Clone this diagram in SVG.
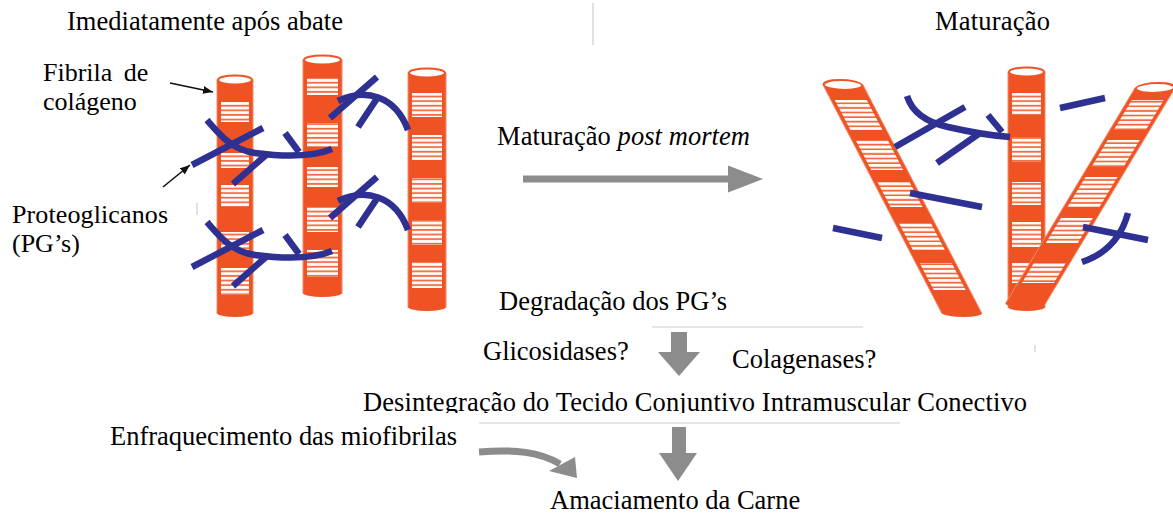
<svg xmlns="http://www.w3.org/2000/svg" width="1173" height="515" viewBox="0 0 1173 515">
  <style>
    text { font-family: 'Liberation Serif', 'DejaVu Serif', 'Times New Roman', serif; font-size: 26.5px; fill: #000; }
    .lbl { font-size: 26px; }
    .body { fill: #ef5323; stroke: #f58a6a; stroke-width: 1; }
    .cap { fill: #fff; stroke: #ef5323; stroke-width: 2; }
    .bot { fill: #ef5323; }
    .band { fill: url(#stripes); }
    .pg { fill: none; stroke: #2e3192; stroke-width: 6.5; }
    .gray { fill: #8c8c8c; }
    .grayline { fill: none; stroke: #8c8c8c; stroke-width: 7; }
    .rule { stroke: #cfcfcf; stroke-width: 1.2; }
    .ptr { stroke: #111; stroke-width: 1.6; fill: none; }
  </style>
  <defs>
    <pattern id="stripes" width="10" height="4.6" patternUnits="userSpaceOnUse">
      <rect width="10" height="4.6" fill="#f26a3f"/>
      <rect y="0.8" width="10" height="2.8" fill="#fff"/>
    </pattern>
    <marker id="head" viewBox="0 0 10 8" markerWidth="10" markerHeight="8" refX="10" refY="4" orient="auto" markerUnits="userSpaceOnUse">
      <path d="M0,0 L10,4 L0,8 z" fill="#111"/>
    </marker>
    <clipPath id="cut">
      <rect x="300" y="380" width="800" height="33"/>
    </clipPath>
  </defs>

  <rect width="1173" height="515" fill="#fff"/>

  <!-- headings -->
  <g id="title-left"><text x="67" y="30" textLength="276">Imediatamente após abate</text></g>
  <g id="title-right"><text x="935" y="30" textLength="115">Maturação</text></g>
  <line class="rule" x1="593" y1="3" x2="593" y2="45"/>

  <!-- left panel: collagen fibrils -->
  <g id="fibril-1">
    <rect class="body" x="217" y="80" width="36" height="233"/>
    <ellipse class="bot" cx="235" cy="313" rx="18" ry="4"/>
    <rect class="band" x="221" y="102" width="28" height="20"/>
    <rect class="band" x="221" y="153" width="28" height="15"/>
    <rect class="band" x="221" y="185" width="28" height="22"/>
    <rect class="band" x="221" y="232" width="28" height="18"/>
    <rect class="band" x="221" y="268" width="28" height="27"/>
    <ellipse class="cap" cx="235" cy="80" rx="17" ry="4.5"/>
  </g>
  <g id="fibril-2">
    <rect class="body" x="303" y="60" width="39" height="233"/>
    <ellipse class="bot" cx="322.5" cy="293" rx="19.5" ry="4"/>
    <rect class="band" x="307" y="78" width="31" height="17"/>
    <rect class="band" x="307" y="123" width="31" height="24"/>
    <rect class="band" x="307" y="167" width="31" height="20"/>
    <rect class="band" x="307" y="207" width="31" height="25"/>
    <rect class="band" x="307" y="250" width="31" height="27"/>
    <ellipse class="cap" cx="322.5" cy="60" rx="18.5" ry="4.5"/>
  </g>
  <g id="fibril-3">
    <rect class="body" x="408" y="73" width="38" height="234"/>
    <ellipse class="bot" cx="427" cy="307" rx="19" ry="4"/>
    <rect class="band" x="412" y="93" width="30" height="24"/>
    <rect class="band" x="412" y="135" width="30" height="25"/>
    <rect class="band" x="412" y="178" width="30" height="25"/>
    <rect class="band" x="412" y="220" width="30" height="25"/>
    <rect class="band" x="412" y="262" width="30" height="26"/>
    <ellipse class="cap" cx="427" cy="73" rx="18" ry="4.5"/>
  </g>

  <!-- left panel: proteoglycans bridging the fibrils -->
  <g id="pg-left">
    <path class="pg" d="M207,120 C220,135 232,150 255,153 S310,158 332,149"/>
    <path class="pg" d="M192,165 L263,128"/>
    <path class="pg" d="M233,184 L266,155"/>
    <path class="pg" d="M285,133 L299,152"/>
    <path class="pg" d="M207,222 C220,237 232,252 255,255 S310,260 332,251"/>
    <path class="pg" d="M192,267 L263,230"/>
    <path class="pg" d="M233,286 L266,257"/>
    <path class="pg" d="M285,235 L299,254"/>
    <path class="pg" d="M330,118 L377,77"/>
    <path class="pg" d="M338,101 C365,88 395,95 408,130"/>
    <path class="pg" d="M358,127 L378,97"/>
    <path class="pg" d="M330,218 L377,177"/>
    <path class="pg" d="M338,201 C365,188 395,195 408,230"/>
    <path class="pg" d="M358,227 L378,197"/>
  </g>

  <!-- labels -->
  <g id="label-fibrila">
    <text class="lbl" x="43" y="81" word-spacing="5">Fibrila de</text>
    <text class="lbl" x="43" y="110">colágeno</text>
  </g>
  <g id="label-pg">
    <text class="lbl" x="12" y="222.5" textLength="156">Proteoglicanos</text>
    <text class="lbl" x="12" y="252">(PG’s)</text>
  </g>
  <line class="rule" x1="197" y1="203" x2="197" y2="215"/>

  <!-- right panel: fibrils after ageing -->
  <g id="fibril-4" transform="translate(843,85) skewX(27.5)">
    <rect class="body" x="-20" y="0" width="40" height="228"/>
    <ellipse class="bot" cx="0" cy="228" rx="20" ry="4"/>
    <rect class="band" x="-16" y="15" width="32" height="30"/>
    <rect class="band" x="-16" y="55" width="32" height="30"/>
    <rect class="band" x="-16" y="97" width="32" height="25"/>
    <rect class="band" x="-16" y="138" width="32" height="27"/>
    <rect class="band" x="-16" y="178" width="32" height="27"/>
    <ellipse class="cap" cx="0" cy="0" rx="19" ry="5"/>
  </g>
  <g id="fibril-5">
    <rect class="body" x="1008" y="72" width="37" height="235"/>
    <ellipse class="bot" cx="1026.5" cy="307" rx="18.5" ry="4"/>
    <rect class="band" x="1012" y="93" width="29" height="22"/>
    <rect class="band" x="1012" y="137" width="29" height="25"/>
    <rect class="band" x="1012" y="182" width="29" height="23"/>
    <rect class="band" x="1012" y="222" width="29" height="25"/>
    <rect class="band" x="1012" y="263" width="29" height="20"/>
    <ellipse class="cap" cx="1026.5" cy="72" rx="17.5" ry="4.5"/>
  </g>
  <g id="fibril-6" transform="translate(1155,88) skewX(-31)">
    <rect class="body" x="-20" y="0" width="40" height="215"/>
    <ellipse class="bot" cx="0" cy="215" rx="20" ry="4"/>
    <rect class="band" x="-16" y="12" width="32" height="30"/>
    <rect class="band" x="-16" y="52" width="32" height="27"/>
    <rect class="band" x="-16" y="89" width="32" height="30"/>
    <rect class="band" x="-16" y="130" width="32" height="25"/>
    <rect class="band" x="-16" y="175" width="32" height="20"/>
    <ellipse class="cap" cx="0" cy="0" rx="19" ry="5"/>
  </g>

  <!-- right panel: degraded proteoglycan fragments -->
  <g id="pg-right">
    <path class="pg" d="M907,96 C912,112 925,122 948,127 C970,132 995,136 1010,137"/>
    <path class="pg" d="M895,147 L965,107"/>
    <path class="pg" d="M937,163 L980,133"/>
    <path class="pg" d="M988,115 L1002,132"/>
    <path class="pg" d="M1060,108 L1105,98"/>
    <path class="pg" d="M910,193 L982,207"/>
    <path class="pg" d="M833,228 L882,238"/>
    <path class="pg" d="M1083,227 L1148,240"/>
    <path class="pg" d="M1128,213 Q1118,250 1082,262"/>
  </g>

  <!-- process text -->
  <g id="label-maturacao"><text x="497" y="145" font-size="27" textLength="253">Maturação <tspan font-style="italic">post mortem</tspan></text></g>
  <g id="label-degradacao"><text x="499" y="310">Degradação dos PG’s</text></g>
  <g id="label-glicosidases"><text x="483" y="360">Glicosidases?</text></g>
  <g id="label-colagenases"><text x="732" y="368">Colagenases?</text></g>
  <g id="label-desintegracao"><text x="363" y="411" textLength="664" clip-path="url(#cut)">Desintegração do Tecido Conjuntivo Intramuscular Conectivo</text></g>
  <g id="label-enfraquecimento"><text x="110" y="445" textLength="347">Enfraquecimento das miofibrilas</text></g>
  <g id="label-amaciamento"><text x="550" y="509">Amaciamento da Carne</text></g>

  <line class="rule" x1="652" y1="327" x2="863" y2="327"/>
  <line class="rule" x1="479" y1="423" x2="900" y2="423"/>
  <line class="rule" x1="1035" y1="345" x2="1035" y2="352"/>

  <!-- connectors -->
  <g id="connectors">
    <line class="ptr" x1="170" y1="83" x2="213" y2="92" marker-end="url(#head)"/>
    <line class="ptr" x1="163" y1="187" x2="190" y2="165" marker-end="url(#head)"/>
    <rect class="gray" x="523" y="175.5" width="207" height="7"/>
    <polygon class="gray" points="728,165.5 763,179 728,192.5"/>
    <rect class="gray" x="671" y="332" width="16" height="21"/>
    <polygon class="gray" points="658,352 700,352 679,376"/>
    <rect class="gray" x="672" y="427" width="14" height="27"/>
    <polygon class="gray" points="659,453 697,453 678,481"/>
    <path class="grayline" d="M479,452 C515,449 540,452 560,464"/>
    <polygon class="gray" points="549,471 575,457 577,478"/>
  </g>
</svg>
